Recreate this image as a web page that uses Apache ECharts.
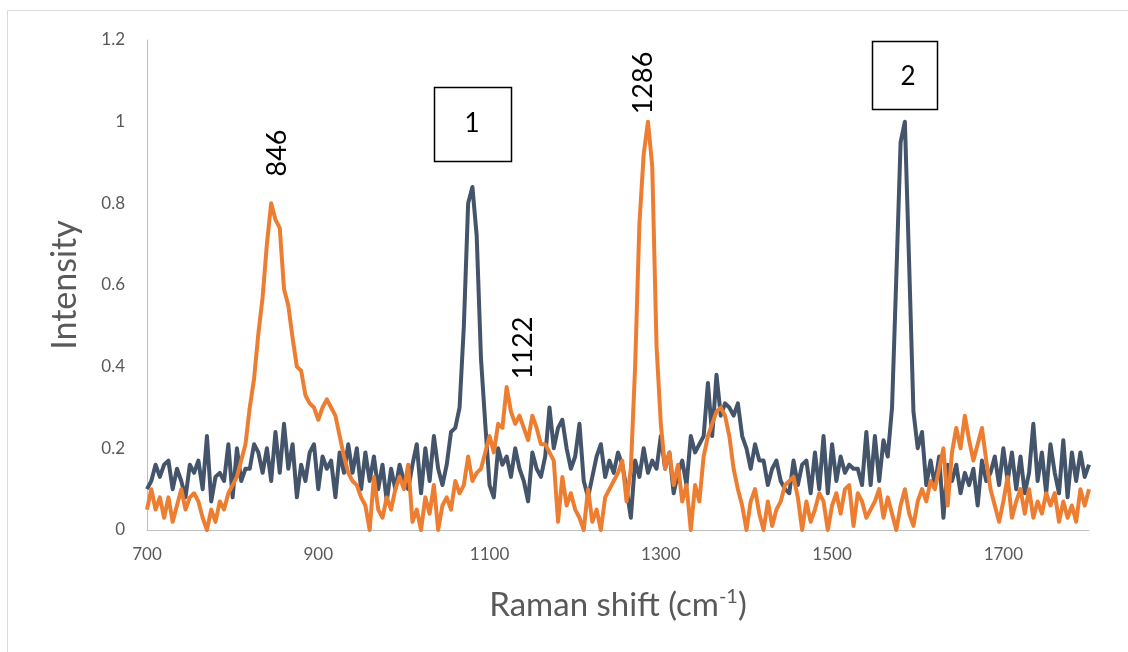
<!DOCTYPE html>
<html>
<head>
<meta charset="utf-8">
<script src="https://cdn.jsdelivr.net/npm/echarts@6/dist/echarts.min.js"></script>
<style>
html,body{margin:0;padding:0;background:#fff;}
#chart{width:1128px;height:652px;}
</style>
</head>
<body>
<div id="chart"></div>
<script>
// Raman shift sampling grid (cm-1)
const shiftStart = 700;
const shiftStep = 5;

// Series 1 (dark) intensities, 700..1800 every 5 cm-1
const darkSeries = [
  0.10,0.12,0.16,0.13,0.16,0.17,0.10,0.15,0.12,0.08,
  0.16,0.14,0.17,0.10,0.23,0.07,0.13,0.14,0.12,0.21,
  0.08,0.20,0.12,0.15,0.15,0.21,0.19,0.14,0.20,0.12,
  0.24,0.14,0.26,0.15,0.21,0.08,0.16,0.12,0.19,0.21,
  0.10,0.18,0.15,0.17,0.08,0.19,0.14,0.21,0.14,0.20,
  0.10,0.19,0.12,0.18,0.10,0.16,0.07,0.15,0.10,0.16,
  0.12,0.10,0.16,0.21,0.09,0.20,0.12,0.23,0.15,0.11,
  0.16,0.24,0.25,0.30,0.50,0.80,0.84,0.72,0.42,0.26,
  0.11,0.08,0.20,0.16,0.18,0.13,0.20,0.15,0.12,0.07,
  0.19,0.15,0.13,0.18,0.30,0.20,0.25,0.27,0.20,0.15,
  0.18,0.26,0.12,0.08,0.13,0.18,0.21,0.13,0.17,0.14,
  0.19,0.16,0.10,0.03,0.17,0.13,0.20,0.14,0.17,0.15,
  0.23,0.15,0.19,0.09,0.14,0.17,0.11,0.23,0.19,0.21,
  0.23,0.36,0.23,0.38,0.28,0.31,0.30,0.28,0.31,0.23,
  0.20,0.15,0.21,0.17,0.17,0.11,0.15,0.17,0.12,0.10,
  0.09,0.17,0.11,0.16,0.17,0.09,0.19,0.10,0.23,0.09,
  0.21,0.12,0.18,0.14,0.16,0.15,0.15,0.11,0.24,0.11,
  0.23,0.12,0.22,0.18,0.30,0.62,0.95,1.00,0.65,0.29,
  0.20,0.24,0.11,0.17,0.11,0.18,0.03,0.16,0.12,0.16,
  0.09,0.14,0.11,0.15,0.06,0.17,0.12,0.14,0.18,0.11,
  0.20,0.12,0.19,0.10,0.18,0.09,0.14,0.26,0.12,0.19,
  0.09,0.21,0.14,0.09,0.22,0.08,0.19,0.12,0.19,0.13,
  0.16
];

// Series 2 (orange) intensities, 700..1800 every 5 cm-1
const orangeSeries = [
  0.05,0.10,0.05,0.08,0.03,0.08,0.02,0.06,0.10,0.05,
  0.08,0.09,0.07,0.03,0.00,0.05,0.02,0.07,0.05,0.09,
  0.11,0.13,0.17,0.21,0.30,0.37,0.48,0.57,0.70,0.80,
  0.76,0.74,0.59,0.55,0.47,0.40,0.39,0.33,0.31,0.30,
  0.27,0.30,0.32,0.30,0.28,0.23,0.18,0.14,0.12,0.11,
  0.08,0.06,0.00,0.13,0.05,0.03,0.08,0.05,0.10,0.13,
  0.10,0.16,0.02,0.05,0.00,0.08,0.04,0.11,0.00,0.06,
  0.08,0.05,0.12,0.09,0.11,0.18,0.12,0.14,0.15,0.19,
  0.23,0.19,0.26,0.25,0.35,0.29,0.26,0.28,0.25,0.22,
  0.28,0.25,0.21,0.21,0.19,0.17,0.02,0.13,0.06,0.09,
  0.05,0.03,0.00,0.10,0.02,0.05,0.00,0.08,0.10,0.12,
  0.14,0.17,0.07,0.15,0.40,0.75,0.92,1.00,0.89,0.45,
  0.26,0.15,0.19,0.11,0.16,0.07,0.11,0.00,0.11,0.07,
  0.18,0.23,0.26,0.29,0.30,0.28,0.23,0.15,0.10,0.06,
  0.00,0.07,0.10,0.04,0.00,0.07,0.01,0.05,0.07,0.11,
  0.12,0.13,0.08,0.00,0.07,0.02,0.05,0.09,0.07,0.00,
  0.06,0.09,0.04,0.10,0.11,0.01,0.09,0.07,0.03,0.05,
  0.07,0.10,0.03,0.08,0.04,0.00,0.06,0.10,0.04,0.01,
  0.07,0.10,0.07,0.12,0.10,0.15,0.20,0.06,0.19,0.25,
  0.20,0.28,0.22,0.17,0.21,0.25,0.17,0.10,0.06,0.02,
  0.07,0.13,0.03,0.07,0.10,0.04,0.10,0.03,0.07,0.04,
  0.09,0.06,0.09,0.02,0.07,0.03,0.06,0.02,0.10,0.06,
  0.10
];

// Axis settings
const xMin = 700, xMax = 1800, xInterval = 200;
const yMin = 0, yMax = 1.2, yInterval = 0.2;

// Annotation texts
const peakLabels = ['846', '1122', '1286'];
const boxLabels = ['1', '2'];

const toPairs = arr => arr.map((v, i) => [shiftStart + i * shiftStep, v]);

const fontFam = 'Lato, "Open Sans", sans-serif';
const chart = echarts.init(document.getElementById('chart'));

chart.setOption({
  animation: false,
  backgroundColor: '#ffffff',
  grid: { left: 147, right: 39, top: 40, bottom: 122 },
  xAxis: {
    type: 'value', min: xMin, max: xMax, interval: xInterval,
    name: '{n|Raman shift (cm}{s|-1}{n|)}',
    nameLocation: 'middle', nameGap: 57,
    nameTextStyle: {
      rich: {
        n: { fontSize: 33, color: '#595959', fontFamily: fontFam },
        s: { fontSize: 20, color: '#595959', fontFamily: fontFam, verticalAlign: 'top', padding: [0, 0, 16, 0] }
      }
    },
    axisLine: { show: true, lineStyle: { color: '#BFBFBF', width: 1 } },
    axisTick: { show: false },
    splitLine: { show: false },
    axisLabel: { color: '#595959', fontSize: 17, fontFamily: fontFam, margin: 16, showMaxLabel: false,
      formatter: v => String(v) }
  },
  yAxis: {
    type: 'value', min: yMin, max: yMax, interval: yInterval,
    name: 'Intensity', nameLocation: 'middle', nameGap: 65,
    nameTextStyle: { fontSize: 34, color: '#595959', fontFamily: fontFam },
    axisLine: { show: true, lineStyle: { color: '#BFBFBF', width: 1 } },
    axisTick: { show: false },
    splitLine: { show: false },
    axisLabel: { color: '#595959', fontSize: 17, fontFamily: fontFam, margin: 22,
      formatter: v => String(parseFloat(v.toFixed(1))) }
  },
  series: [
    { type: 'line', data: toPairs(darkSeries), showSymbol: false, symbol: 'none',
      lineStyle: { color: '#44546A', width: 4, join: 'round' }, itemStyle: { color: '#44546A' }, z: 2 },
    { type: 'line', data: toPairs(orangeSeries), showSymbol: false, symbol: 'none',
      lineStyle: { color: '#ED7D31', width: 4, join: 'round' }, itemStyle: { color: '#ED7D31' }, z: 3 }
  ],
  graphic: [
    { type: 'rect', shape: { x: 7.5, y: 10.5, width: 1140, height: 660 },
      style: { fill: 'none', stroke: '#D9D9D9', lineWidth: 1 }, silent: true, z: -1 },
    { type: 'text', x: 277, y: 153, rotation: Math.PI / 2,
      style: { text: peakLabels[0], fill: '#000', fontSize: 27, fontFamily: fontFam, align: 'center', verticalAlign: 'middle' } },
    { type: 'text', x: 523, y: 348, rotation: Math.PI / 2,
      style: { text: peakLabels[1], fill: '#000', fontSize: 27, fontFamily: fontFam, align: 'center', verticalAlign: 'middle' } },
    { type: 'text', x: 643, y: 83, rotation: Math.PI / 2,
      style: { text: peakLabels[2], fill: '#000', fontSize: 27, fontFamily: fontFam, align: 'center', verticalAlign: 'middle' } },
    { type: 'rect', shape: { x: 434.5, y: 87.5, width: 77, height: 74 },
      style: { fill: '#fff', stroke: '#000', lineWidth: 1.5 } },
    { type: 'text', x: 472, y: 124,
      style: { text: boxLabels[0], fill: '#000', fontSize: 26, fontFamily: fontFam, align: 'center', verticalAlign: 'middle' } },
    { type: 'rect', shape: { x: 872.5, y: 41.5, width: 65, height: 68 },
      style: { fill: '#fff', stroke: '#000', lineWidth: 1.5 } },
    { type: 'text', x: 908, y: 77,
      style: { text: boxLabels[1], fill: '#000', fontSize: 26, fontFamily: fontFam, align: 'center', verticalAlign: 'middle' } }
  ]
});
</script>
</body>
</html>
